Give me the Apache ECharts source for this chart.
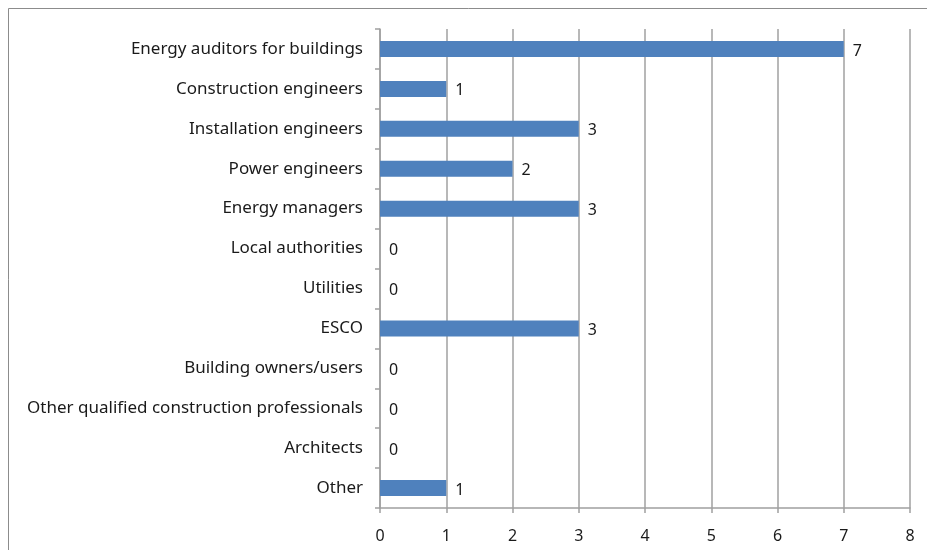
<!DOCTYPE html>
<html>
<head>
<meta charset="utf-8">
<script src="https://cdn.jsdelivr.net/npm/echarts@6/dist/echarts.min.js"></script>
<style>
  html, body { margin: 0; padding: 0; background: #fff; }
  #chart { width: 927px; height: 550px; }
</style>
</head>
<body>
<div id="chart"></div>
<script>
  // categories top to bottom
  var categories = [
    'Energy auditors for buildings',
    'Construction engineers',
    'Installation engineers',
    'Power engineers',
    'Energy managers',
    'Local authorities',
    'Utilities',
    'ESCO',
    'Building owners/users',
    'Other qualified construction professionals',
    'Architects',
    'Other'
  ];
  var counts = [7, 1, 3, 2, 3, 0, 0, 3, 0, 0, 0, 1];

  var axisGray = '#a0a0a0';
  var textColor = '#1a1a1a';
  var font = 'Noto Sans';

  var chart = echarts.init(document.getElementById('chart'));
  chart.setOption({
    animation: false,
    backgroundColor: '#fff',
    graphic: [{
      type: 'rect',
      shape: { x: 8.5, y: 8.5, width: 1000, height: 1000 },
      style: { fill: 'none', stroke: '#8c8c8c', lineWidth: 1 },
      silent: true
    }],
    grid: { left: 380, right: 17, top: 29, bottom: 42, containLabel: false },
    xAxis: {
      type: 'value',
      min: 0,
      max: 8,
      interval: 1,
      axisLine: { show: true, lineStyle: { color: axisGray, width: 1.5 } },
      axisTick: { show: true, length: 5, lineStyle: { color: axisGray, width: 1.5 } },
      axisLabel: { color: textColor, fontFamily: font, fontSize: 16, margin: 20 },
      splitLine: { show: true, lineStyle: { color: axisGray, width: 1.5 } }
    },
    yAxis: {
      type: 'category',
      data: categories,
      inverse: true,
      axisLine: { show: true, lineStyle: { color: axisGray, width: 1.5 } },
      axisTick: { show: true, length: 5, lineStyle: { color: axisGray, width: 1.5 } },
      axisLabel: { color: textColor, fontFamily: font, fontSize: 17, margin: 17, padding: [3, 0, 0, 0] },
      splitLine: { show: false }
    },
    series: [{
      type: 'bar',
      data: counts,
      barWidth: 16,
      itemStyle: { color: '#4f81bd' },
      label: {
        show: true,
        position: 'right',
        distance: 9,
        color: textColor,
        fontFamily: font,
        fontSize: 16,
        offset: [0, 2]
      }
    }]
  });
</script>
</body>
</html>
